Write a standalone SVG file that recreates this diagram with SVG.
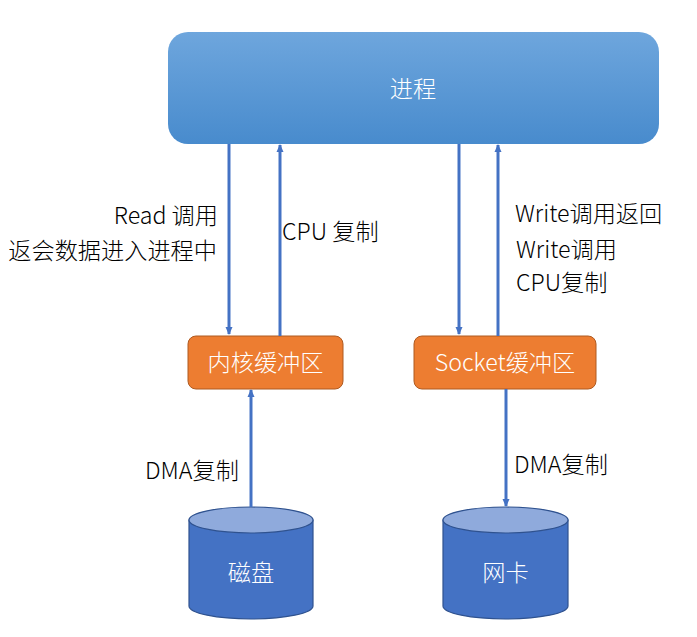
<svg xmlns="http://www.w3.org/2000/svg" width="697" height="637" viewBox="0 0 697 637">
<style>
text{font-family:"Noto Sans CJK SC","Noto Sans",sans-serif;font-size:23.2px;font-weight:300;fill:#000}
.w{fill:#fff}
.buf{fill:#ED7D31;stroke:#AE5A21;stroke-width:1}
.cyl{fill:#4472C4;stroke:#2F528F;stroke-width:1.2}
.cyltop{fill:#8FAADC;stroke:#2F528F;stroke-width:1.2}
.edge{stroke:#4472C4;stroke-width:3;fill:none;marker-end:url(#ah)}
</style>
<defs>
<linearGradient id="g" x1="0" y1="0" x2="0" y2="1">
<stop offset="0" stop-color="#6EA6DD"/>
<stop offset="1" stop-color="#488BCD"/>
</linearGradient>
<marker id="ah" markerWidth="8" markerHeight="8" refX="7" refY="4" orient="auto" markerUnits="userSpaceOnUse" viewBox="0 0 8 8">
<path d="M0,0.5 L8,4 L0,7.5 Z" fill="#4472C4"/>
</marker>
</defs>
<rect width="697" height="637" fill="#fff"/>
<g id="proc">
<rect x="168" y="32" width="491" height="112" rx="20" fill="url(#g)"/>
<text x="413" y="97" class="w" text-anchor="middle" font-size="23.5">进程</text>
</g>
<g id="kbuf">
<rect class="buf" x="188" y="336" width="155" height="53" rx="8"/>
<text x="265.5" y="371" class="w" text-anchor="middle" font-size="22.8">内核缓冲区</text>
</g>
<g id="sbuf">
<rect class="buf" x="414" y="336" width="182" height="53" rx="8"/>
<text x="505" y="371" class="w" text-anchor="middle" font-size="22.8">Socket缓冲区</text>
</g>
<g id="disk">
<path class="cyl" d="M189,520 L189,606 A62,13 0 0 0 313,606 L313,520 Z"/>
<ellipse class="cyltop" cx="251" cy="520" rx="62" ry="13"/>
<text x="251" y="581" class="w" text-anchor="middle">磁盘</text>
</g>
<g id="nic">
<path class="cyl" d="M443,520 L443,606 A62.5,13 0 0 0 568,606 L568,520 Z"/>
<ellipse class="cyltop" cx="505.5" cy="520" rx="62.5" ry="13"/>
<text x="505.5" y="581" class="w" text-anchor="middle">网卡</text>
</g>
<g id="connectors">
<line class="edge" x1="229" y1="144" x2="229" y2="334"/>
<line class="edge" x1="280" y1="336" x2="280" y2="145"/>
<line class="edge" x1="459" y1="144" x2="459" y2="334"/>
<line class="edge" x1="498" y1="336" x2="498" y2="145"/>
<line class="edge" x1="251" y1="507" x2="251" y2="390"/>
<line class="edge" x1="506" y1="389" x2="506" y2="506"/>
</g>
<g id="labels">
<text x="218" y="224" text-anchor="end">Read 调用</text>
<text x="217" y="259" text-anchor="end">返会数据进入进程中</text>
<text x="282" y="240">CPU 复制</text>
<text x="515" y="222">Write调用返回</text>
<text x="516" y="258">Write调用</text>
<text x="516" y="291">CPU复制</text>
<text x="145" y="479">DMA复制</text>
<text x="514" y="473">DMA复制</text>
</g>
</svg>
